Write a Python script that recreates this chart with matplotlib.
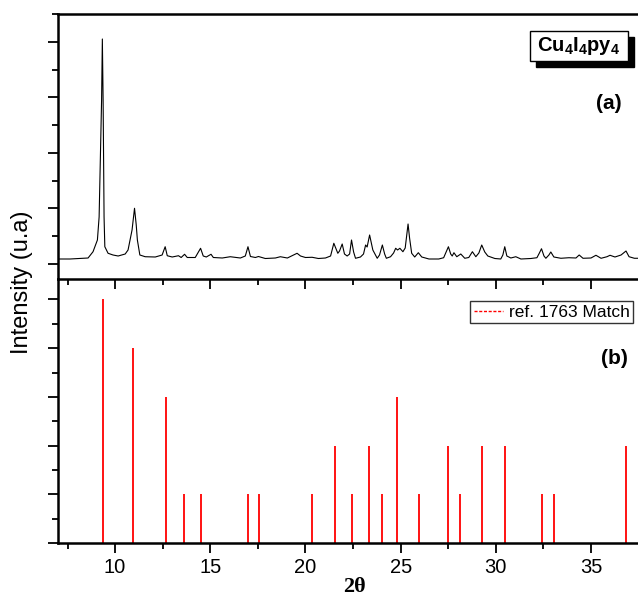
import matplotlib

matplotlib.use("Agg")
import matplotlib.pyplot as plt
from matplotlib.lines import Line2D
from matplotlib.patches import Rectangle
from matplotlib.ticker import MultipleLocator, NullFormatter

plt.rcParams["font.family"] = ["Liberation Sans", "DejaVu Sans"]
plt.rcParams["mathtext.fontset"] = "custom"
plt.rcParams["mathtext.bf"] = "Liberation Sans:bold"
plt.rcParams["mathtext.rm"] = "Liberation Sans"

two_theta = [
    7.00, 7.63, 8.16, 8.58, 8.84, 9.07, 9.16, 9.29, 9.33, 9.37, 9.42, 9.46,
    9.63, 9.89, 10.16, 10.53, 10.68, 10.89, 11.02, 11.11, 11.17, 11.30, 11.58,
    12.11, 12.47, 12.63, 12.74, 13.00, 13.33, 13.47, 13.65, 13.79, 14.21,
    14.49, 14.63, 14.79, 15.04, 15.16, 15.63, 16.05, 16.58, 16.84, 16.98,
    17.11, 17.37, 17.53, 17.89, 18.42, 18.68, 19.05, 19.42, 19.56, 19.74,
    20.00, 20.35, 20.68, 21.05, 21.32, 21.49, 21.70, 21.79, 21.93, 22.05,
    22.19, 22.32, 22.42, 22.53, 22.63, 22.89, 23.05, 23.16, 23.24, 23.37,
    23.54, 23.77, 23.89, 24.04, 24.16, 24.25, 24.47, 24.63, 24.74, 24.84,
    24.96, 25.12, 25.24, 25.32, 25.39, 25.47, 25.58, 25.74, 25.93, 26.11,
    26.49, 27.00, 27.26, 27.39, 27.51, 27.63, 27.71, 27.80, 27.95, 28.16,
    28.37, 28.58, 28.77, 28.95, 29.11, 29.26, 29.42, 29.58, 29.95, 30.26,
    30.37, 30.47, 30.58, 30.79, 31.05, 31.32, 31.84, 32.16, 32.29, 32.40,
    32.53, 32.63, 32.79, 32.89, 33.05, 33.42, 33.84, 34.21, 34.38, 34.58,
    35.00, 35.26, 35.53, 35.84, 36.00, 36.26, 36.58, 36.71, 36.84, 37.00,
    37.28, 37.47,
]
intensity = [
    90, 90, 99, 108, 221, 432, 846, 2952, 4050, 2952, 846, 311,
    193, 162, 144, 180, 252, 612, 1003, 702, 432, 162, 131,
    126, 162, 311, 149, 126, 149, 117, 175, 117, 117,
    283, 144, 126, 175, 117, 108, 131, 108, 144, 311,
    135, 117, 135, 99, 108, 131, 108, 171, 193, 144,
    117, 121, 99, 108, 144, 373, 193, 234, 360, 180,
    144, 180, 432, 216, 103, 126, 180, 342, 306, 522,
    252, 103, 162, 342, 180, 103, 131, 198, 283, 252,
    283, 221, 288, 522, 720, 468, 193, 126, 203, 126,
    90, 90, 113, 216, 311, 180, 144, 203, 131, 180,
    103, 117, 221, 131, 198, 342, 216, 144, 99, 90,
    162, 311, 144, 108, 131, 90, 99, 113, 198, 275,
    144, 103, 162, 216, 126, 103, 113, 108, 162, 103,
    108, 157, 103, 131, 157, 126, 162, 198, 234, 131,
    103, 103,
]

# reference pattern (b)
ref_pos = [9.35, 10.96, 12.65, 13.60, 14.49, 16.98, 17.54, 20.37, 21.56,
           22.45, 23.33, 24.03, 24.79, 25.96, 27.51, 28.14, 29.26, 30.49,
           32.42, 33.05, 36.83]
ref_int = [5, 4, 3, 1, 1, 1, 1, 1, 2, 1, 2, 1, 3, 1, 2, 1, 2, 2, 1, 1, 2]

W, H = 638, 597
fig = plt.figure(figsize=(W / 100, H / 100), dpi=100)
left, right = 58 / W, 1.0
ax2 = fig.add_axes([left, 1 - 543 / H, right - left, (543 - 279) / H])
ax1 = fig.add_axes([left, 1 - 279 / H, right - left, (279 - 14) / H])
ax2.patch.set_visible(False)
ax1.patch.set_visible(False)

ax1.plot(two_theta, intensity, color="black", linewidth=0.8)
ax2.vlines(ref_pos, 0, ref_int, color="red", linewidth=1.3)

for ax in (ax1, ax2):
    ax.set_xlim(7.0, 37.47)
    ax.spines["right"].set_visible(False)
    for s in ("left", "top", "bottom"):
        ax.spines[s].set_linewidth(1.8)
    ax.xaxis.set_major_locator(MultipleLocator(5))
    ax.xaxis.set_minor_locator(MultipleLocator(2.5))
    ax.tick_params(which="both", direction="out", width=1.3,
                   top=False, right=False, labelleft=False)
    ax.tick_params(which="major", length=7)
    ax.tick_params(which="minor", length=4)
    ax.yaxis.set_minor_formatter(NullFormatter())

ax1.set_ylim(-270, 4500)
ax1.yaxis.set_major_locator(MultipleLocator(1000))
ax1.yaxis.set_minor_locator(MultipleLocator(500))
ax1.tick_params(labelbottom=False)

ax2.set_ylim(0, 5.42)
ax2.yaxis.set_major_locator(MultipleLocator(1))
ax2.yaxis.set_minor_locator(MultipleLocator(0.5))
ax2.tick_params(labelsize=14.5, pad=4)
ax2.spines["top"].set_visible(False)

fig.text(22 / W, 1 - 282 / H, "Intensity (u.a)", rotation=90,
         ha="center", va="center", fontsize=17)
fig.text(354 / W, 1 - 587 / H, "2θ", ha="center", va="center",
         fontsize=16, fontweight="bold", family="Liberation Serif")

# sample label box with drop shadow
fig.patches.append(Rectangle((536 / W, 1 - 67 / H), 98 / W, 30 / H,
                             transform=fig.transFigure, facecolor="black",
                             edgecolor="black", zorder=5))
fig.patches.append(Rectangle((530 / W, 1 - 61 / H), 98 / W, 30 / H,
                             transform=fig.transFigure, facecolor="white",
                             edgecolor="black", linewidth=1.0, zorder=6))
fig.text(579 / W, 1 - 46 / H, r"$\mathbf{Cu_4I_4py_4}$", ha="center",
         va="center", fontsize=14.5, zorder=7)

fig.text(622 / W, 1 - 104 / H, "(a)", ha="right", va="center",
         fontsize=15, fontweight="bold")
fig.text(628 / W, 1 - 358 / H, "(b)", ha="right", va="center",
         fontsize=15, fontweight="bold")

handle = Line2D([], [], color="red", linestyle=(0, (2.2, 1.2)), linewidth=1.0)
leg = fig.legend([handle], ["ref. 1763 Match"], loc="upper right",
                 bbox_to_anchor=(633 / W, 1 - 301 / H), fontsize=12.5,
                 frameon=True, fancybox=False, borderaxespad=0,
                 handlelength=1.7, handletextpad=0.3, borderpad=0.2)
leg.get_frame().set_edgecolor("black")
leg.get_frame().set_linewidth(1.0)

fig.savefig("out.png", dpi=100)
